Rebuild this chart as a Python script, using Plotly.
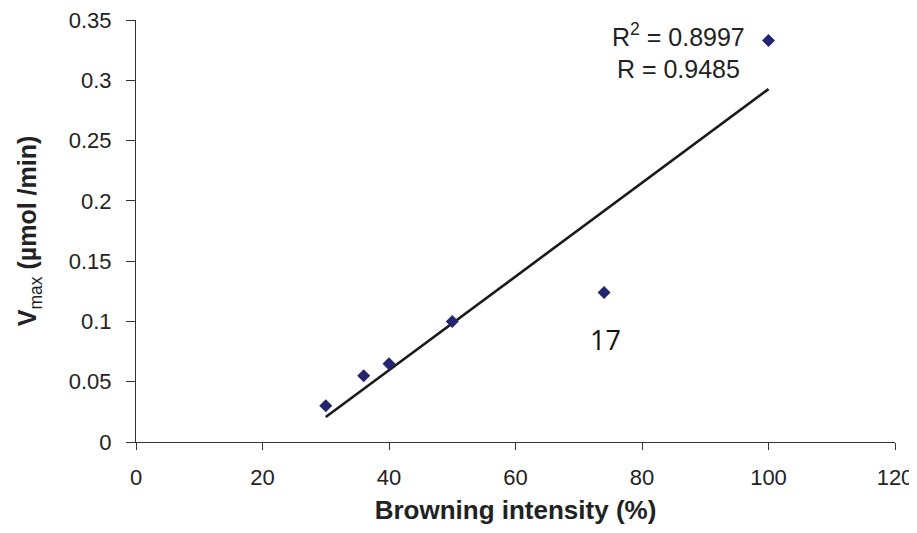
import numpy as np
import plotly.graph_objects as go

browning = [30, 36, 40, 50, 74, 100]
vmax = [0.03, 0.055, 0.065, 0.1, 0.124, 0.333]
x_ticks = [0, 20, 40, 60, 80, 100, 120]
y_ticks = [0, 0.05, 0.1, 0.15, 0.2, 0.25, 0.3, 0.35]
y_tick_text = ["0", "0.05", "0.1", "0.15", "0.2", "0.25", "0.3", "0.35"]
fit_text = "R<sup>2</sup> = 0.8997<br>R = 0.9485"
outlier_label = "17"

slope, intercept = np.polyfit(browning, vmax, 1)
fit_x = [min(browning), max(browning)]
fit_y = [slope * v + intercept for v in fit_x]

fig = go.Figure()
fig.add_trace(go.Scatter(x=fit_x, y=fit_y, mode="lines",
                         line=dict(color="#1a1a1a", width=2.6), showlegend=False))
fig.add_trace(go.Scatter(x=browning, y=vmax, mode="markers",
                         marker=dict(symbol="diamond", size=10, color="#24246f"),
                         showlegend=False))

font = "Liberation Sans, Arial, sans-serif"
fig.add_annotation(x=85.8, y=0.324, xref="x", yref="y", text=fit_text, showarrow=False,
                   align="center", yanchor="middle",
                   font=dict(family=font, size=25, color="#222"))
fig.add_annotation(x=74.3, y=0.085, xref="x", yref="y", text=outlier_label, showarrow=False,
                   font=dict(family="Open Sans, sans-serif", size=27, color="#111"))

fig.update_layout(
    width=909, height=517,
    margin=dict(l=128, r=22, t=12, b=83),
    paper_bgcolor="white", plot_bgcolor="white",
    font=dict(family=font, size=22, color="#222"),
)
fig.update_xaxes(range=[0, 120], tickvals=x_ticks, showgrid=False, zeroline=False,
                 showline=True, linecolor="#333", linewidth=1.2, automargin=False,
                 ticks="outside", ticklen=7, tickcolor="#333",
                 ticklabeloverflow="allow", ticklabelstandoff=8,
                 tickfont=dict(family=font, size=22, color="#222"),
                 title=dict(text="<b>Browning intensity (%)</b>", standoff=27,
                            font=dict(family=font, size=26, color="#222")))
fig.update_yaxes(range=[0, 0.35], tickvals=y_ticks, ticktext=y_tick_text, showgrid=False,
                 zeroline=False, showline=True, linecolor="#333", linewidth=1.2,
                 automargin=False,
                 ticks="outside", ticklen=9, tickcolor="#333",
                 ticklabeloverflow="allow", ticklabelstandoff=10,
                 tickfont=dict(family=font, size=22, color="#222"),
                 title=dict(text="<b>V</b><sub>max</sub><b> (µmol /min)</b>", standoff=24,
                            font=dict(family=font, size=25, color="#222")))

fig.write_html("out.html")
